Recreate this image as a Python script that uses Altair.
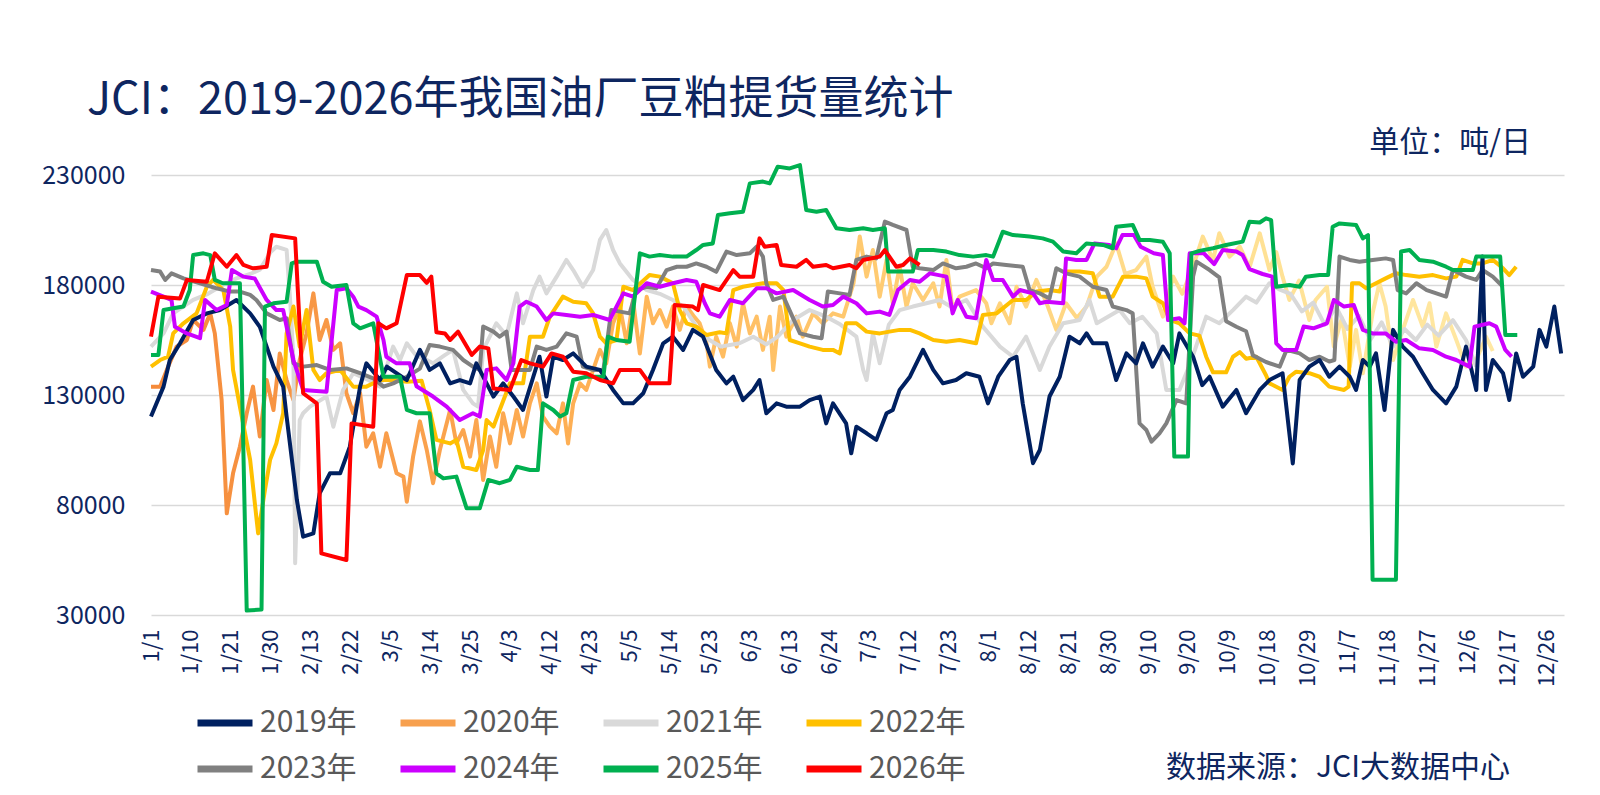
import pandas as pd
import altair as alt

years = ["2019年", "2020年", "2021年", "2022年", "2023年", "2024年", "2025年", "2026年"]
colors = ["#002060", "#F7A04E", "#D9D9D9", "#FFC000", "#808080", "#CC00FF", "#00B050", "#FF0000"]

tick_labels = ["1/1", "1/10", "1/21", "1/30", "2/13", "2/22", "3/5", "3/14", "3/25",
               "4/3", "4/12", "4/23", "5/5", "5/14", "5/23", "6/3", "6/13", "6/24",
               "7/3", "7/12", "7/23", "8/1", "8/12", "8/21", "8/30", "9/10", "9/20",
               "10/9", "10/18", "10/29", "11/7", "11/18", "11/27", "12/6", "12/17", "12/26"]
y_ticks = [30000, 80000, 130000, 180000, 230000]

# (交易日序号, 提货量 吨/日)
y2019 = [(0, 120200), (2.2, 133800), (3.3, 145900), (5.1, 153500), (7.4, 164100), (9.8, 167100),
         (12.1, 168600), (15, 173200), (17.4, 167100), (19.1, 161000), (21.5, 142900), (23.2, 133800),
         (23.8, 120200), (25.6, 82300), (26.7, 65600), (28.5, 67100), (29.6, 85300), (31.4, 94400),
         (33.2, 94400), (34.9, 106500), (36.7, 133800), (37.8, 144400), (40.2, 136800), (41.4, 142900),
         (44.9, 136800), (47.2, 150500), (48.9, 141400), (50.7, 144400), (52.5, 135300), (54.2, 136800),
         (56, 135300), (57.1, 144400), (58.9, 135300), (60.1, 129300), (61.8, 135300), (63.6, 129300),
         (65.3, 123200), (67.1, 138300), (68.2, 147400), (69.4, 129300), (70.6, 147400), (72.3, 145900),
         (74.1, 148900), (76.4, 142900), (78.8, 141400), (81.1, 132300), (82.9, 126200), (84.6, 126200),
         (86.4, 130800), (88.1, 141400), (89.9, 153500), (91.6, 156500), (93.4, 150500), (95.1, 159600),
         (96.9, 156500), (97.8, 150500), (99.2, 141400), (101, 135300), (102.2, 138300), (103.9, 127700),
         (105.7, 132300), (106.8, 136800), (108, 121700), (109.8, 126200), (111.5, 124700), (113.9, 124700),
         (115.6, 127700), (117.4, 129300), (118.5, 117100), (119.7, 126200), (122, 117100), (122.9, 103500),
         (123.8, 115600), (125.6, 112600), (127.3, 109600), (129.1, 121700), (130.2, 123200), (131.4, 132300),
         (133.2, 138300), (135.5, 150500), (137.3, 141400), (139, 135300), (141.3, 136800), (143.1, 139900),
         (145.4, 138300), (146.9, 126200), (148.7, 138300), (150.7, 145900), (151.9, 147400), (153, 126200),
         (154.8, 99000), (156, 105000), (157.7, 129300), (159.5, 138300), (161.2, 156500), (163, 153500),
         (164.2, 158000), (165.3, 153500), (167.7, 153500), (169.4, 136800), (171.2, 148900), (172.9, 144400),
         (174.1, 153500), (175.8, 142900), (177.6, 152000), (179.4, 144400), (180.5, 158000), (182.9, 147400),
         (184.5, 134500), (185.8, 138300), (188.1, 124700), (190.5, 132300), (192.2, 121700), (194.6, 132300),
         (196.3, 136800), (198.6, 139900), (200.4, 98900), (201.6, 136800), (203.3, 142900), (205.1, 145900),
         (206.8, 138300), (208.6, 142900), (210.4, 138300), (211.5, 132300), (212.7, 145900), (213.9, 142900),
         (215, 148900), (216.5, 123200), (218, 159600), (219.7, 152000), (221.5, 147400), (223.2, 139900),
         (225, 132300), (227.3, 126200), (229.1, 133800), (230.8, 152000), (232.6, 132300), (233.7, 192900),
         (234.3, 132300), (235.5, 145900), (237.3, 139900), (238.4, 127700), (239.6, 148900), (240.8, 138300),
         (242.6, 142900), (243.7, 159600), (244.9, 152000), (246.3, 170200), (247.5, 148900)]

y2020 = [(0, 133800), (1.6, 133800), (3, 142900), (4.5, 152000), (6.3, 155000), (7.4, 164100), (9.2, 159600),
         (10.4, 167100), (11.2, 158000), (12.4, 127700), (13.3, 76200), (14.4, 94400), (15.6, 106500),
         (16.8, 121700), (17.9, 133800), (19.1, 111100), (20.3, 136800), (21.5, 123200), (22.6, 148900),
         (23.8, 136800), (25, 127700), (26.1, 145900), (27.3, 158000), (28.5, 176200), (29.6, 155000),
         (30.8, 164100), (32, 150500), (33.2, 153500), (34.3, 130800), (35.5, 121700), (36.7, 130800),
         (37.8, 106500), (39, 112600), (40.2, 97400), (41.3, 112600), (43.1, 94400), (44.3, 92900),
         (44.9, 81500), (46, 102000), (47.2, 118000), (48.4, 105000), (49.5, 89900), (50.7, 105000),
         (52.5, 123200), (53.6, 108000), (54.8, 114100), (56, 102000), (57.1, 118600), (58.3, 91400),
         (59.5, 111100), (60.6, 97400), (61.8, 121700), (63, 108000), (64.2, 123200), (65.3, 111100),
         (66.5, 126200), (67.7, 135300), (68.8, 120200), (70, 115600), (71.2, 112600), (72.3, 126200),
         (73.2, 108000), (74.1, 126200), (75.3, 135300), (76.4, 132300), (77.6, 141400), (78.8, 150500),
         (79.9, 144400), (81.1, 162600), (82.3, 170200), (83.5, 153500), (84.6, 173200), (85.8, 148900),
         (87, 174700), (88.1, 162600), (89.3, 168600), (90.5, 161100), (91.6, 170200), (92.8, 159600),
         (94, 170200), (95.2, 166000), (96.3, 162600), (97.5, 153500), (98.1, 142900), (99.2, 156500),
         (100.4, 147400), (101.6, 162600), (102.8, 152000), (103.9, 171700), (105.1, 158000), (106.3, 165600),
         (107.4, 150500), (108.6, 165600), (109.2, 141400), (110.4, 170200), (111.5, 156500), (113.3, 165600),
         (114.4, 156500), (116.2, 167100), (117.9, 162600), (119.7, 167100), (121.5, 165600), (123.3, 180800),
         (124.4, 202000), (125.6, 183800), (126.7, 195900), (127.9, 174700), (129.1, 191400), (130.2, 171700),
         (131.4, 188300), (132.6, 170200), (133.7, 180800), (135.5, 173200), (137.3, 180800), (138.4, 170200),
         (139.6, 191400), (140.7, 168600), (141.9, 174700), (144.8, 177700), (146.6, 171700), (147.5, 162600),
         (149, 171700), (150.7, 162600), (151.9, 179200), (153.6, 170200), (155.4, 182300), (157.2, 171700),
         (158.9, 159600), (160.6, 171700), (162.5, 165000), (164.2, 170200), (166, 183800), (167.7, 188300),
         (169.4, 198900), (171, 185000), (172.9, 186800), (174.7, 192900), (175.8, 179200), (177.6, 165600),
         (179.4, 183800), (181, 176000), (182.9, 188300), (184.6, 202000), (186.4, 191400), (187.5, 203500),
         (189.3, 192900), (191.1, 197400), (192.8, 188000), (194.6, 203500), (196.3, 186800), (197.5, 195000),
         (198.6, 183800), (199.8, 173200), (201.5, 182000), (203.3, 164100), (204.4, 173200), (206.4, 179200),
         (207.6, 152000), (209, 165000), (210.4, 142900), (211.5, 159600), (212.7, 139900), (214.4, 167100),
         (215.6, 180800), (216.7, 170200), (218, 145900), (219.7, 159600), (221.5, 173200), (223.2, 161100),
         (224.4, 171700), (225.6, 152000), (227.3, 167100), (229.1, 155000), (230.8, 142900), (232.6, 145900),
         (234.3, 156500), (235.5, 150000)]

y2021 = [(0, 152000), (2.2, 158000), (3.9, 167100), (7.4, 173200), (10, 176000), (12.6, 180000), (15, 183000),
         (17.4, 185000), (19.1, 187000), (21, 195000), (22, 197400), (23.8, 196000), (24.5, 170000),
         (25, 146000), (25.3, 53500), (26.1, 118600), (26.7, 121700), (27.9, 124700), (30.8, 129300),
         (32, 115600), (33.7, 132300), (35.5, 139900), (38, 137000), (40.2, 133800), (42.5, 152000),
         (43.7, 145900), (44.9, 153500), (46.5, 148000), (48.4, 145900), (49.5, 144400), (51.5, 148000),
         (53, 150500), (54.8, 132300), (56.5, 126200), (57.4, 124700), (58.3, 150500), (60.6, 162600),
         (62.4, 157000), (64.2, 176200), (65.3, 162600), (67.1, 177700), (68.2, 183800), (69.4, 176200),
         (71.2, 183800), (72.9, 191400), (74.1, 186800), (75.8, 179200), (77.6, 186800), (78.8, 200500),
         (79.9, 205000), (81.1, 195900), (82.3, 189800), (84.6, 182300), (87, 177700), (89.3, 176000),
         (91.6, 173200), (93.5, 170000), (96, 160000), (98, 155000), (100, 152000), (103.3, 153500),
         (105.7, 156500), (108, 153000), (110, 156500), (112.7, 164100), (115.6, 168600), (118.5, 165600),
         (121, 162000), (123.8, 156500), (125, 141400), (125.6, 136800), (126.7, 158000), (127.9, 144400),
         (129.5, 162000), (131.4, 168600), (133.7, 170200), (136.1, 171700), (138.4, 173200), (140.5, 170000),
         (143.1, 173200), (146, 161100), (149, 152000), (151.3, 147400), (153.6, 156500), (156, 141400),
         (157.7, 152000), (160.1, 162600), (163, 164100), (164.7, 173200), (166, 162600), (170, 168600),
         (171.8, 162600), (174, 165600), (176.5, 158000), (178.2, 132300), (180.5, 132300), (182.5, 145000),
         (185.2, 165600), (187.5, 162600), (189.9, 168600), (192.2, 174700), (194, 172000), (196.3, 180800),
         (198, 178000), (200, 176000), (202, 168000), (204, 172000), (206, 162000), (208, 170000),
         (210, 160000), (212, 166000), (214, 155000), (216, 163000), (218, 152000), (220, 160000),
         (222, 155000), (224, 162000), (226, 157000), (228.5, 164000), (230.8, 155000), (232.6, 142900)]

y2022 = [(0, 142900), (1.6, 145900), (3, 147400), (3.9, 158000), (5.7, 162600), (8, 167100), (9.8, 179200),
         (10.9, 182300), (12.7, 177700), (13.9, 161100), (14.4, 141400), (15.6, 124700), (17.4, 100500),
         (18.8, 67100), (20, 86800), (20.9, 100500), (22, 108000), (23.2, 121700), (23.8, 158000),
         (25, 170200), (26.1, 152000), (27.3, 168600), (28.5, 141400), (29.6, 136800), (30.8, 139900),
         (33.2, 141400), (35.5, 133800), (37.8, 133800), (40.2, 136800), (42.5, 136800), (44.9, 136000),
         (47.5, 136500), (48.9, 123200), (50.1, 109600), (52.5, 108000), (53.6, 109600), (54.8, 97400),
         (57.1, 95900), (58.3, 105000), (58.9, 118600), (60.1, 115600), (61.2, 123200), (63, 135300),
         (65.3, 135300), (66.5, 156500), (68.8, 156500), (70, 165600), (72.3, 174700), (74.1, 172400),
         (76.4, 171700), (77.6, 167100), (78.8, 156500), (79.9, 153500), (81.7, 155000), (82.9, 179200),
         (84.6, 177700), (87.5, 184500), (89.3, 183800), (91.6, 180800), (92.8, 168600), (94, 162600),
         (95.7, 161100), (97.5, 157300), (99.8, 158500), (101, 158000), (102.2, 177700), (103.9, 179200),
         (107.4, 180800), (109.8, 180800), (111, 177700), (112.1, 155000), (113.9, 153500), (115.6, 152000),
         (117.9, 150500), (119.7, 150500), (120.9, 148900), (122, 162600), (123.8, 162600), (125.6, 158800),
         (127.9, 158000), (129.6, 158800), (131.4, 159600), (133.2, 159600), (134.9, 158000), (137.3, 155000),
         (139.6, 154200), (141.9, 155000), (144.8, 153500), (146, 166400), (148.4, 167100), (149.5, 169400),
         (151.3, 173200), (153.6, 173200), (155.4, 177000), (157.7, 177700), (159.5, 177000), (160.6, 186100),
         (163, 186100), (165.3, 185300), (166.5, 174700), (168.8, 174700), (170.6, 183800), (172.9, 183800),
         (174.7, 183000), (175.8, 174700), (177.6, 171700), (178.8, 164100), (180.5, 162600), (182.3, 158000),
         (184, 157000), (185.2, 147400), (186.4, 140300), (188.7, 140300), (189.9, 147400), (191.1, 149500),
         (192.2, 146500), (194, 147400), (195.7, 139000), (196.3, 135300), (198.6, 132300), (199.8, 138300),
         (201, 140600), (203.3, 139900), (205.1, 138300), (206.8, 133800), (209.4, 132300), (210.2, 133800),
         (210.8, 180800), (212.1, 180800), (213.3, 178500), (215, 180800), (216.7, 183000), (218.5, 185300),
         (220.3, 184500), (222.6, 183800), (225, 184500), (227.3, 183000), (229.1, 183800), (230.2, 191400),
         (232, 189800), (233.7, 189800), (235.5, 191400), (237.3, 187600), (238.4, 184500), (239.6, 188300)]

y2023 = [(0, 186800), (1.6, 186100), (2.5, 182300), (3.6, 185300), (5.7, 183000), (8.6, 180800), (11.5, 178500),
         (13.9, 177000), (15.6, 177000), (17.4, 175500), (18.5, 173200), (20.3, 167100), (22.6, 164100),
         (23.8, 164900), (25, 144400), (26.7, 142900), (29.1, 143600), (31.4, 141400), (34.3, 142100),
         (36.7, 139900), (39, 137600), (40.8, 133800), (42.5, 135300), (44.9, 138300), (47.2, 142000),
         (48.9, 152700), (50.7, 152000), (53, 150500), (54.8, 145900), (56.5, 142900), (57.7, 141400),
         (58.3, 161100), (60.1, 158800), (61.2, 156500), (62.4, 158800), (63.3, 141400), (66.5, 141400),
         (67.7, 152000), (69.4, 150500), (71.2, 152000), (72.9, 158000), (74.7, 156500), (75.8, 142900),
         (77.6, 141400), (79.4, 141400), (80.8, 168600), (82.3, 167900), (84, 167100), (85.2, 177700),
         (87, 179200), (88.7, 178500), (90.5, 186800), (92.3, 188300), (94, 188300), (95.7, 189800),
         (97.5, 188300), (99.2, 186000), (101, 195200), (102.8, 193600), (105.1, 194400), (106.3, 197400),
         (107.4, 192900), (108, 180800), (109.2, 173200), (111, 174700), (113.9, 158000), (116.2, 156500),
         (117.7, 155800), (118.8, 177000), (120.9, 176200), (122.6, 175500), (123.8, 191400), (125.6, 192900),
         (127.3, 192100), (128.8, 208800), (130.2, 207300), (132.6, 205000), (133.7, 188300), (134.9, 187600),
         (137.3, 186800), (139, 189800), (141.3, 187600), (143.1, 188300), (144.8, 189800), (146.6, 187600),
         (147.8, 189800), (150.1, 189100), (153, 188300), (154.2, 177700), (156, 176200), (157.7, 173900),
         (158.9, 187600), (160.6, 185300), (163, 183800), (165.3, 179200), (167.7, 177700), (168.8, 170200),
         (171.2, 168600), (172.3, 167100), (173.5, 117100), (174.7, 114100), (175.6, 108800), (177, 112600),
         (178.2, 117100), (180, 127700), (181.7, 126200), (182.9, 183800), (183.5, 190600), (185.8, 186800),
         (187.5, 183500), (188.7, 163500), (190.5, 161000), (192.2, 159000), (193.4, 148000), (195.7, 145000),
         (198.1, 142900), (199.3, 150500), (201.6, 148900), (203.3, 145900), (205.1, 147400), (206.8, 145200),
         (207.7, 145900), (208.6, 192900), (210.4, 191400), (212.1, 190600), (214.4, 191400), (216.7, 192100),
         (218, 191400), (218.8, 177700), (220.3, 176200), (222.1, 180800), (223.9, 177700), (227.3, 174700),
         (228.5, 186800), (230.8, 183800), (232.6, 182300), (233.7, 186800), (235.5, 183800), (237.3, 179200)]

y2024 = [(0, 177000), (2.2, 174700), (3.6, 173200), (4.2, 161000), (6.3, 158000), (8.6, 155800), (9.5, 173200),
         (11.5, 168600), (13.3, 170900), (14.2, 186800), (16.2, 183800), (18.2, 183000), (20.3, 173200),
         (22, 168600), (23.2, 168600), (25, 145900), (26.7, 132300), (30.8, 131500), (32.6, 177700),
         (34.3, 178500), (35.5, 174700), (36.4, 170200), (37.8, 168600), (39.6, 165600), (40.8, 155000),
         (41.3, 147400), (43.1, 144400), (45.4, 144400), (46.6, 134000), (49.5, 129300), (51.9, 124700),
         (54.2, 118600), (56.5, 121700), (57.7, 120200), (58.9, 141400), (60.6, 142100), (62.4, 136800),
         (63.6, 144400), (64.7, 170200), (65.9, 172400), (67.7, 170200), (69.4, 164100), (70.6, 167100),
         (72.9, 166400), (75.3, 165600), (77.6, 166400), (80.5, 164100), (82.9, 176200), (84.6, 174700),
         (87, 180800), (89.3, 179200), (91.6, 180800), (94, 182300), (95.7, 181500), (97.2, 171700),
         (98.1, 167100), (99.8, 165600), (101.6, 173200), (103.9, 171700), (106.3, 178500), (108, 178500),
         (109.8, 176200), (112.7, 177700), (115.6, 173200), (117.9, 170200), (119.7, 170900), (121.5, 174700),
         (123.8, 171700), (125.6, 167100), (127.9, 167900), (129.6, 166400), (131.1, 177700), (133.2, 182300),
         (134.9, 181500), (136.7, 185300), (139.6, 183800), (140.7, 167100), (141.6, 173200), (143.1, 165600),
         (144.8, 164900), (146.6, 191400), (147.8, 182300), (149.5, 182300), (151.3, 174700), (152.5, 177700),
         (154.8, 176200), (156, 171700), (157.2, 172400), (160.1, 171700), (160.6, 192100), (162.4, 191400),
         (164.2, 191400), (165.6, 198900), (168.2, 198200), (169.4, 196700), (170.5, 202700), (172.5, 202700),
         (173.7, 197400), (176, 194400), (177.6, 193600), (178.5, 164100), (180.5, 164900), (181.4, 162600),
         (182.3, 194400), (184.8, 194400), (186.6, 189500), (188.1, 195900), (190.5, 195200), (191.6, 193600),
         (192.8, 187200), (195.1, 185000), (196.8, 183800), (197.5, 153500), (198.6, 150500), (201, 150500),
         (202.3, 161100), (204, 160300), (206.4, 162600), (207.6, 173200), (209.4, 170200), (211.1, 170900),
         (212.7, 159600), (214.4, 158000), (216.7, 158000), (218.5, 154200), (220.3, 155000), (222.6, 151200),
         (225, 150500), (227.3, 147400), (229.1, 145900), (231.4, 142900), (232.3, 161100), (234.9, 162600),
         (236.1, 161100), (237.7, 150500), (238.8, 147400)]

y2025 = [(0, 148200), (1.3, 148200), (2.2, 168600), (3.9, 169400), (5.7, 170200), (6.8, 177700), (7.4, 193600),
         (9.2, 194400), (10.4, 193600), (11.2, 182300), (12.6, 180800), (15.6, 180800), (16.8, 32000),
         (19.4, 32500), (20, 170200), (21.5, 171700), (23.8, 172400), (24.7, 189800), (25.6, 190600),
         (29.1, 190600), (30.2, 181500), (31.7, 179200), (34.3, 180000), (35.5, 162600), (36.7, 160300),
         (39, 162600), (40.8, 138300), (43.7, 138300), (44.9, 123200), (46.6, 121700), (48.9, 121700),
         (50.1, 94400), (51.3, 92100), (53.6, 92900), (55.4, 78500), (57.7, 78500), (59.2, 91400),
         (61.2, 89900), (63, 91400), (64.2, 97400), (66.5, 95900), (67.9, 95900), (68.8, 126200),
         (70.6, 123200), (71.8, 120200), (72.9, 121700), (74.1, 136800), (76.4, 138300), (79.4, 138300),
         (80.2, 156500), (81.7, 155000), (84, 154200), (85.8, 194400), (87.5, 192900), (89.3, 193600),
         (91.6, 192900), (94, 192900), (95.7, 195900), (96.9, 198200), (98.6, 198900), (99.5, 211800),
         (101.6, 212600), (103.9, 213300), (105.1, 226200), (107.4, 227000), (108.6, 226200), (110, 233800),
         (112.1, 233000), (113.9, 234500), (115, 214100), (116.8, 213300), (118.5, 214100), (120.3, 205800),
         (122.6, 205000), (125, 205800), (126.7, 205000), (128.8, 205800), (129.4, 186100), (133.7, 186100),
         (134.6, 195900), (137.3, 195900), (139.6, 195200), (141.9, 193600), (144.3, 192900), (146.6, 193600),
         (147.8, 192900), (149.5, 204200), (151.3, 202700), (154.2, 202000), (156.5, 201200), (158.3, 199700),
         (160.1, 195200), (162.4, 194400), (164.2, 198900), (167.1, 198200), (168.8, 196700), (169.4, 206500),
         (172.3, 207300), (173.5, 200500), (175.3, 200500), (177.6, 199700), (178.8, 194400), (179.6, 102000),
         (182, 102000), (182.6, 194400), (184, 195500), (186.4, 196700), (188.7, 198200), (191.6, 199700),
         (192.8, 208800), (194.6, 208400), (195.7, 210300), (196.6, 209500), (197.5, 179200), (199.8, 180000),
         (201.6, 179200), (202.7, 183800), (205.1, 184500), (206.6, 184500), (207.4, 206500), (208.6, 208000),
         (211.5, 207300), (212.7, 201200), (213.6, 202700), (214.4, 46000), (218.5, 46000), (219.4, 195200),
         (220.9, 195900), (222.6, 191400), (225, 190600), (227.3, 188300), (228.5, 186800), (232, 186800),
         (232.6, 192900), (236.8, 192900), (237.7, 157300), (239.8, 157300)]

y2026 = [(0, 156500), (1.3, 174700), (5.1, 173900), (6.3, 182300), (9.8, 181500), (11.2, 194400), (13.3, 188300),
         (15, 193600), (16.2, 189100), (17.9, 187600), (20.3, 188300), (21.2, 202700), (25.3, 201200),
         (26.7, 130800), (29.1, 126200), (29.9, 58000), (34.3, 55000), (35.2, 117100), (39, 115600),
         (39.9, 162600), (41.3, 160300), (43.1, 162600), (44.9, 184500), (47.2, 184500), (48.4, 181000),
         (49.2, 183800), (50.1, 158500), (51.6, 158000), (52.5, 155000), (53.9, 158800), (56.3, 148200),
         (57.7, 152000), (59.2, 151200), (60.1, 133000), (63, 132300), (65, 145900), (66.5, 144400),
         (68.8, 142900), (70.3, 148900), (72.3, 147400), (74.1, 140600), (76.4, 139900), (78.8, 136800),
         (81.1, 135300), (82.3, 141400), (85.8, 141400), (87.5, 135300), (91, 135300), (91.9, 170900),
         (95.1, 170200), (96, 168600), (96.9, 180000), (99.8, 177700), (102.2, 186800), (103.3, 183800),
         (105.7, 183800), (106.8, 201200), (107.7, 197400), (109.8, 198200), (110.6, 189100), (113.3, 188300),
         (115, 191400), (116.2, 188300), (118.5, 189100), (119.7, 187600), (122.6, 189100), (123.8, 187600),
         (125, 191400), (127.9, 192900), (128.8, 195900), (130.8, 188300), (132, 189100), (133.2, 192100),
         (134.9, 189100)]

navy = "#0E2660"
font = "Noto Sans CJK SC"

label_expr = "[" + ",".join("'%s'" % t for t in tick_labels) + "][round(datum.value / 7)]"

x_enc = alt.X("day:Q", title=None,
              scale=alt.Scale(domain=[0, 248], nice=False, zero=False),
              axis=alt.Axis(values=[7 * i for i in range(len(tick_labels))], labelExpr=label_expr,
                            labelAngle=270, grid=False, ticks=False, domain=False,
                            labelFontSize=22, labelFont=font, labelColor=navy,
                            labelPadding=14, labelOverlap=False))
y_enc = alt.Y("value:Q", title=None,
              scale=alt.Scale(domain=[30000, 230000], nice=False, zero=False),
              axis=alt.Axis(values=y_ticks, format="d", grid=True, gridColor="#D9D9D9", gridWidth=1.5,
                            ticks=False, domain=False, labelFontSize=25, labelFont=font,
                            labelColor=navy, labelPadding=26))
color_enc = alt.Color("year:N", scale=alt.Scale(domain=years, range=colors),
                      legend=alt.Legend(orient="none", legendX=43, legendY=517, direction="horizontal",
                                        columns=4, title=None, symbolType="stroke", symbolSize=3025,
                                        symbolStrokeWidth=7, labelFontSize=30, labelFont=font,
                                        labelColor="#595959", labelOffset=4, columnPadding=29,
                                        rowPadding=-12))


def series(rows, name):
    return pd.DataFrame(rows, columns=["day", "value"]).assign(year=name)


def line(rows, name):
    return alt.Chart(series(rows, name)).mark_line(strokeWidth=4, strokeJoin="round").encode(
        x=x_enc, y=y_enc, color=color_enc)


# 2020年 线条由橙色渐变为浅黄
grad_2020 = {"gradient": "linear", "x1": 0, "y1": 0, "x2": 1, "y2": 0,
             "stops": [{"offset": 0, "color": "#F58A3A"}, {"offset": 0.18, "color": "#F99E4B"},
                       {"offset": 0.35, "color": "#FFB457"}, {"offset": 0.55, "color": "#FFCC73"},
                       {"offset": 0.78, "color": "#FFDF90"}, {"offset": 1, "color": "#FFE8A3"}]}
line_2020 = alt.Chart(series(y2020, "2020年")).mark_line(strokeWidth=4, strokeJoin="round", stroke=grad_2020).encode(
    x=x_enc, y=y_enc)


def note(text, x, y, size, align, color=navy):
    return alt.Chart(pd.DataFrame({"t": [text]})).mark_text(
        align=align, baseline="middle", fontSize=size, font=font, color=color
    ).encode(x=alt.value(x), y=alt.value(y), text="t:N")


title = note("JCI：2019-2026年我国油厂豆粕提货量统计", -64, -75, 45, "left")
unit = note("单位：吨/日", 1380, -32, 30, "right")
source = note("数据来源：JCI大数据中心", 1359, 593, 30, "right")

chart = alt.layer(
    line_2020,
    line(y2021, "2021年"),
    line(y2022, "2022年"),
    line(y2023, "2023年"),
    line(y2019, "2019年"),
    line(y2024, "2024年"),
    line(y2025, "2025年"),
    line(y2026, "2026年"),
    title, unit, source,
).properties(
    width=1413, height=440,
    padding={"left": 143, "top": 167, "right": 28, "bottom": 172},
    autosize=alt.AutoSizeParams(type="none"),
).configure_view(strokeWidth=0)

chart.save("out.html", embed_options={"renderer": "svg", "actions": False})
